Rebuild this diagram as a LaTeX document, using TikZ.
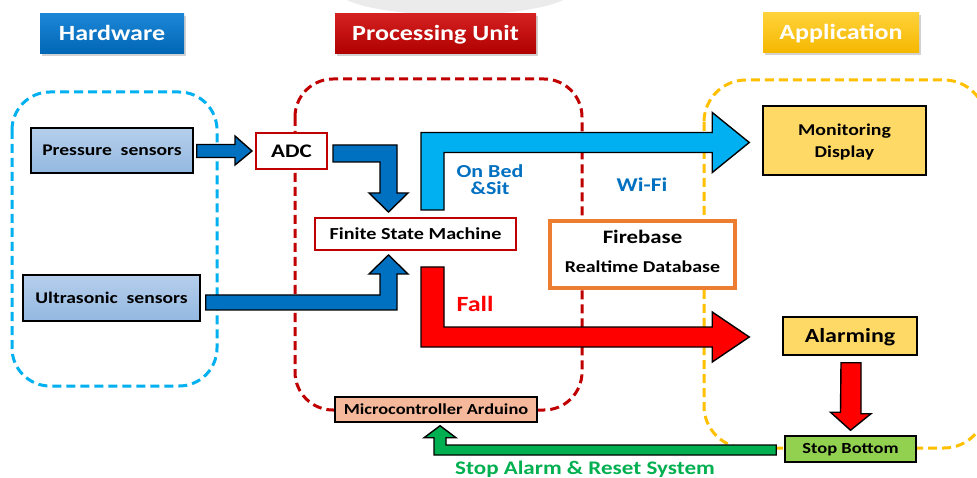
\documentclass[tikz,border=0pt]{standalone}
\usepackage{fontspec}
\setmainfont{Carlito}[FakeStretch=1.2]
\usetikzlibrary{calc,shadows}

\definecolor{hwTop}{HTML}{1C86D6}
\definecolor{hwBot}{HTML}{0066B5}
\definecolor{puTop}{HTML}{D42020}
\definecolor{puBot}{HTML}{B00000}
\definecolor{apTop}{HTML}{FFD23A}
\definecolor{apBot}{HTML}{F5B700}
\definecolor{sensTop}{HTML}{B6CFEC}
\definecolor{sensBot}{HTML}{93B8E0}
\definecolor{appFill}{HTML}{FFD966}
\definecolor{stopFill}{HTML}{92D050}
\definecolor{mcuFill}{HTML}{F6B89A}
\definecolor{puRed}{HTML}{C00000}
\definecolor{zoneCyan}{HTML}{00B0F0}
\definecolor{zoneRed}{HTML}{C00000}
\definecolor{zoneYellow}{HTML}{FFC000}
\definecolor{arrBlue}{HTML}{0070C0}
\definecolor{arrSky}{HTML}{00B0F0}
\definecolor{arrRed}{HTML}{FF0000}
\definecolor{arrGreen}{HTML}{00B050}
\definecolor{txtBlue}{HTML}{0070C0}
\definecolor{txtGreen}{HTML}{00B050}
\definecolor{fbOrange}{HTML}{ED7D31}

\pgfdeclarelayer{zones}
\pgfdeclarelayer{arrows}
\pgfsetlayers{zones,arrows,main}

% bold text at a given size
\newcommand\fsz[1]{\bfseries\fontsize{#1pt}{#1pt}\selectfont}
% a one-line text whose box is just its cap height, so that nodes centre the capitals
\newcommand\cc[1]{\raisebox{0pt}[0.644em][0pt]{#1}}

\tikzset{
  zone/.style={dash pattern=on 9pt off 5pt, line width=3pt, rounded corners=38pt},
  banner/.style={text=white, inner sep=0pt, minimum height=40pt, font=\fsz{21.7},
    drop shadow={opacity=0.35, shadow xshift=1.5pt, shadow yshift=-2pt}},
  sensor/.style={draw=black, line width=1.5pt, top color=sensTop, bottom color=sensBot,
    inner sep=0pt, font=\fsz{16.3}},
  redbox/.style={draw=puRed, line width=2pt, fill=white, inner sep=0pt},
  appbox/.style={draw=black, line width=1.5pt, fill=appFill, inner sep=0pt, align=center},
  blockarrow/.style={draw=black, line width=1.4pt, line join=miter},
  lbl/.style={inner sep=0pt},
}

\begin{document}
\begin{tikzpicture}[x=1pt,y=-1pt]
\useasboundingbox (0,0) rectangle (977,478);

% ---------- section banners ----------
\node[banner, top color=hwTop, bottom color=hwBot, minimum width=144pt] (hw) at (112,34) {\cc{Hardware}};
\node[banner, top color=puTop, bottom color=puBot, minimum width=201pt] (pu) at (435.5,34) {\cc{Processing Unit}};
\node[banner, top color=apTop, bottom color=apBot, minimum width=156pt] (app) at (841,33) {\cc{Application}};

% ---------- blocks ----------
\node[sensor, minimum width=162pt, minimum height=45pt] (ps) at (112,150.5) {\cc{Pressure\ \ sensors}};
\node[sensor, minimum width=177pt, minimum height=46pt] (us) at (111.5,298) {\cc{Ultrasonic\ \ sensors}};

\node[redbox, minimum width=71pt, minimum height=36pt, font=\fsz{19.2}] (adc) at (291.5,151) {\cc{ADC}};
\node[redbox, minimum width=201pt, minimum height=32pt, font=\fsz{16.8}] (fsm) at (415.5,234) {\cc{Finite State Machine}};

\node[draw=fbOrange, line width=4pt, fill=white, minimum width=185pt, minimum height=67pt] (fb) at (642.5,254.5) {};
\node[lbl, font=\fsz{19}] (fbname) at ($(fb.center)+(0,-17)$) {\cc{Firebase}};
\node[lbl, font=\fsz{16.6}] (fbdb) at ($(fb.center)+(0,13)$) {\cc{Realtime Database}};

\node[appbox, minimum width=163pt, minimum height=69pt] (mon) at (844.5,140.5) {};
\node[lbl, align=center, font=\bfseries\fontsize{16.5pt}{22pt}\selectfont] (montext) at ($(mon.center)+(0,2)$) {Monitoring\\Display};
\node[appbox, minimum width=134pt, minimum height=38pt, font=\fsz{20}] (alarm) at (850,336) {\cc{Alarming}};
\node[appbox, fill=stopFill, minimum width=131pt, minimum height=26pt, font=\fsz{15.4}] (stop) at (850.5,449) {\cc{Stop Bottom}};
\node[appbox, fill=mcuFill, minimum width=202pt, minimum height=25pt, font=\fsz{15.3}] (mcu) at (436,409.5) {\cc{Microcontroller Arduino}};

% ---------- arrow labels ----------
\node[lbl, text=txtBlue, align=center, font=\bfseries\fontsize{18.3pt}{17pt}\selectfont] (onbed) at (490,180) {On Bed\\\&Sit};
\node[lbl, text=txtBlue, font=\fsz{19.5}] (wifi) at (642,185.5) {\cc{Wi-Fi}};
\node[lbl, text=arrRed, font=\fsz{21.7}] (fall) at (475,304.5) {\cc{Fall}};
\node[lbl, text=txtGreen, font=\fsz{19.2}] (reset) at (585,468.5) {\cc{Stop Alarm \& Reset System}};

% ---------- page, backdrop and dashed zones ----------
\begin{pgfonlayer}{zones}
  \fill[white] (0,0) rectangle (977,478);
  % faint backdrop shape at the top edge
  \fill[gray!16] (455,-10) ellipse [x radius=118pt, y radius=25pt];
  \draw[zone, draw=zoneCyan] (12,92) rectangle (217,386);
  \draw[zone, draw=zoneRed] (295,79) rectangle (582,410);
  \begin{scope}
    \clip (0,0) rectangle (977,478);
    \draw[zone, draw=zoneYellow, rounded corners=42pt] (704,80) rectangle (986,448);
  \end{scope}
\end{pgfonlayer}

% ---------- block arrows ----------
\begin{pgfonlayer}{arrows}
  % Pressure sensors -> ADC
  \draw[blockarrow, fill=arrBlue]
    ($(ps.east |- adc.west)+(3,-6.5)$) -- ($(adc.west)+(-20,-6.5)$) -- ++(0,-8.5)
    -- ($(adc.west)+(-3,0)$) -- ($(adc.west)+(-20,14)$) -- ++(0,-7.5)
    -- ($(ps.east |- adc.west)+(3,6.5)$) -- cycle;

  % ADC -> Finite State Machine
  \coordinate (k1) at ($(fsm.north)+(-27,-5)$);
  \draw[blockarrow, fill=arrBlue]
    ($(adc.east)+(5,-6)$) -| ($(k1)+(8.5,-19)$) -- ++(11,0) -- (k1)
    -- ++(-19.5,-19) -- ++(11,0) |- ($(adc.east)+(5,11)$) -- cycle;

  % Ultrasonic sensors -> Finite State Machine
  \coordinate (k2) at ($(fsm.south)+(-27,4)$);
  \draw[blockarrow, fill=arrBlue]
    ($(us.east)+(5,-3)$) -| ($(k2)+(-8.5,19)$) -- ++(-11,0) -- (k2)
    -- ++(19.5,19) -- ++(-11,0) |- ($(us.east)+(5,12)$) -- cycle;

  % Finite State Machine -> Monitoring Display (Wi-Fi)
  \coordinate (k3) at ($(mon.west)+(-13,2)$);
  \draw[blockarrow, fill=arrSky]
    ($(fsm.north)+(5.5,-7)$) |- ($(k3)+(-37,-10)$) -- ++(0,-20) -- (k3)
    -- ++(-37,30) -- ++(0,-20) -| ($(fsm.north)+(28.5,-7)$) -- cycle;

  % Finite State Machine -> Alarming (Fall)
  \coordinate (k4) at ($(alarm.west)+(-33,1)$);
  \draw[blockarrow, fill=arrRed]
    ($(fsm.south)+(5.5,16)$) |- ($(k4)+(-37,10)$) -- ++(0,15) -- (k4)
    -- ++(-37,-25) -- ++(0,15) -| ($(fsm.south)+(28.5,16)$) -- cycle;

  % Alarming -> Stop Bottom
  \draw[blockarrow, fill=arrRed]
    ($(alarm.south)+(-9,7)$) -- ++(20,0) -- ++(0,51) -- ++(10,0)
    -- ($(stop.north)+(0,-5)$) -- ++(-20,-18) -- ++(10,0) -- cycle;

  % Stop Bottom -> Microcontroller Arduino
  \coordinate (k5) at ($(mcu.south)+(4,3)$);
  \draw[blockarrow, fill=arrGreen]
    ($(stop.west)+(-8,-4)$) -| ($(k5)+(6,12)$) -- ++(10,0) -- (k5)
    -- ++(-16,12) -- ++(10,0) |- ($(stop.west)+(-8,6)$) -- cycle;
\end{pgfonlayer}
\end{tikzpicture}
\end{document}
